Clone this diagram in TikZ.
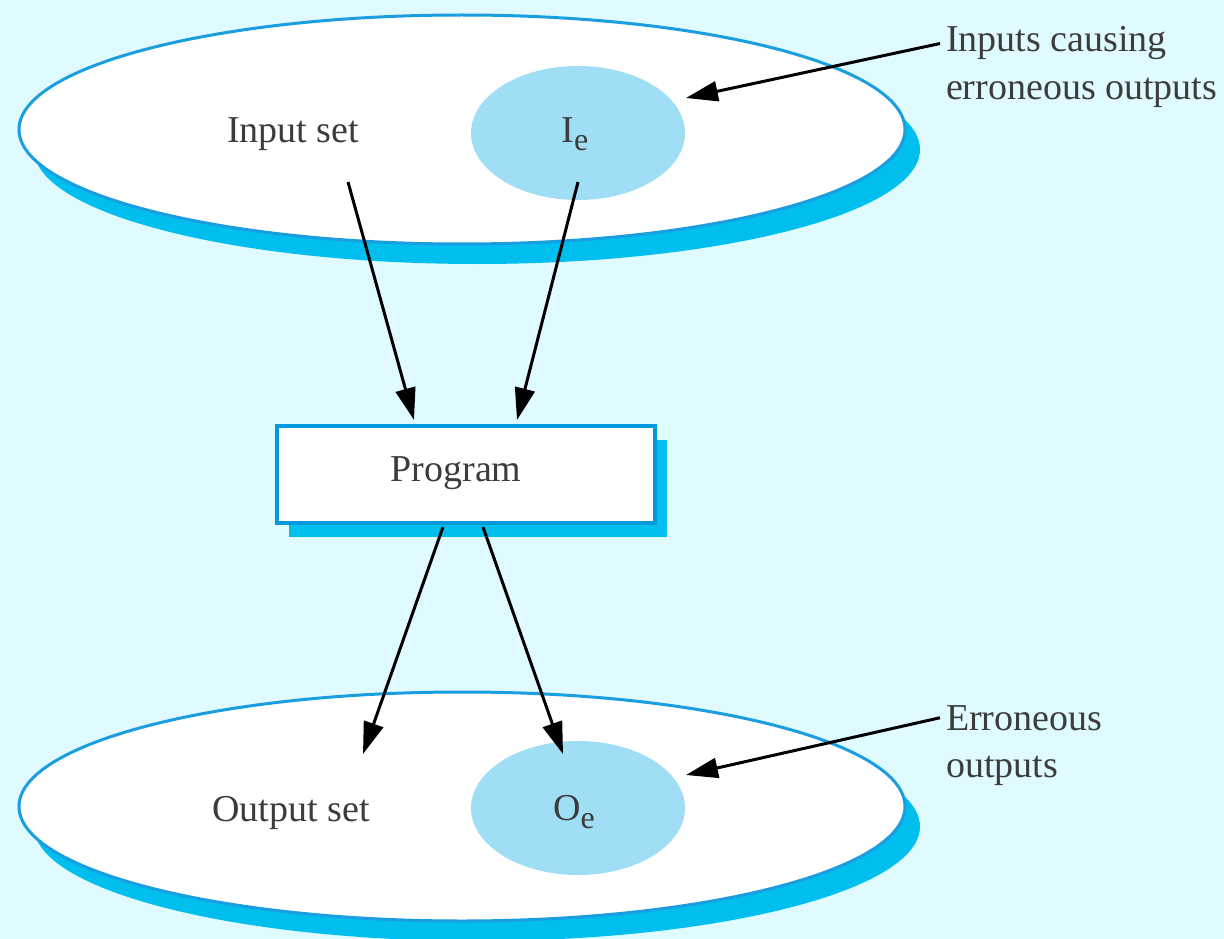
\documentclass[tikz,border=0pt]{standalone}
\usepackage{fontspec}
\setmainfont{Liberation Serif}
\usetikzlibrary{shapes.geometric,shadows,arrows.meta}
\definecolor{bgc}{HTML}{E0FBFF}
\definecolor{linec}{HTML}{1A9EE0}
\definecolor{shc}{HTML}{00BEEE}
\definecolor{boxc}{HTML}{0099DD}
\definecolor{subc}{HTML}{A0DEF5}
\definecolor{txtc}{HTML}{3C3C3C}
\begin{document}
\begin{tikzpicture}[x=1pt,y=-1pt,
  lbl/.style={font=\fontsize{38}{48}\selectfont, text=txtc, inner sep=0pt, outer sep=0pt},
  setell/.style={ellipse, draw=linec, line width=3pt, fill=white,
    minimum width=886pt, minimum height=229pt, inner sep=0pt,
    drop shadow={shadow xshift=15pt, shadow yshift=-20pt, fill=shc, opacity=1}},
  subell/.style={ellipse, fill=subc, minimum width=214pt, minimum height=134pt, inner sep=0pt},
  progbox/.style={rectangle, draw=boxc, line width=4pt, fill=white,
    minimum width=378pt, minimum height=97pt, inner sep=0pt,
    drop shadow={shadow xshift=12pt, shadow yshift=-14pt, fill=shc, opacity=1}},
  arr/.style={-{Triangle[length=32pt,width=20pt]}, line width=3pt, black}]
\useasboundingbox (0,0) rectangle (1224,939);
\fill[bgc] (0,0) rectangle (1224,939);

% input set
\node[setell] (inset) at (462,129.5) {};
\node[subell] (Ie) at (578,133) {};
\node[lbl, anchor=base] (inlbl) at (293,143) {Input set};
\node[lbl, anchor=base] (Iel) at (575,143) {I\raisebox{-8pt}{\fontsize{32}{32}\selectfont e}};

% output set
\node[setell] (outset) at (462,806.5) {};
\node[subell] (Oe) at (578,808) {};
\node[lbl, anchor=base] (outlbl) at (291,821) {Output set};
\node[lbl, anchor=base] (Oel) at (574,820) {O\raisebox{-8pt}{\fontsize{32}{32}\selectfont e}};

% program
\node[progbox] (prog) at (466,474.5) {};
\node[lbl, anchor=base] (proglbl) at (456,481) {Program};

% annotations
\node[lbl, anchor=base west, inner sep=6pt] (inc1) at (940,52) {Inputs causing};
\node[lbl, anchor=base west, inner sep=6pt] (inc2) at (940,100) {erroneous outputs};
\node[lbl, anchor=base west, inner sep=6pt] (err1) at (940,730) {Erroneous};
\node[lbl, anchor=base west, inner sep=6pt] (err2) at (940,777) {outputs};

% arrow end points
\coordinate (a1s) at (348,182);
\coordinate (a1e) at (414,420);
\coordinate (a2s) at (578,182);
\coordinate (a2e) at (517,420);
\coordinate (b1s) at (443,527);
\coordinate (b1e) at (363,754);
\coordinate (b2s) at (483,527);
\coordinate (b2e) at (563,754);
\coordinate (ie-tip) at (686,98);
\coordinate (oe-tip) at (686,775);

\draw[arr] (a1s) -- (a1e);
\draw[arr] (a2s) -- (a2e);
\draw[arr] (b1s) -- (b1e);
\draw[arr] (b2s) -- (b2e);
\draw[arr] (inc1.west) -- (ie-tip);
\draw[arr] (err1.west) -- (oe-tip);
\end{tikzpicture}
\end{document}
